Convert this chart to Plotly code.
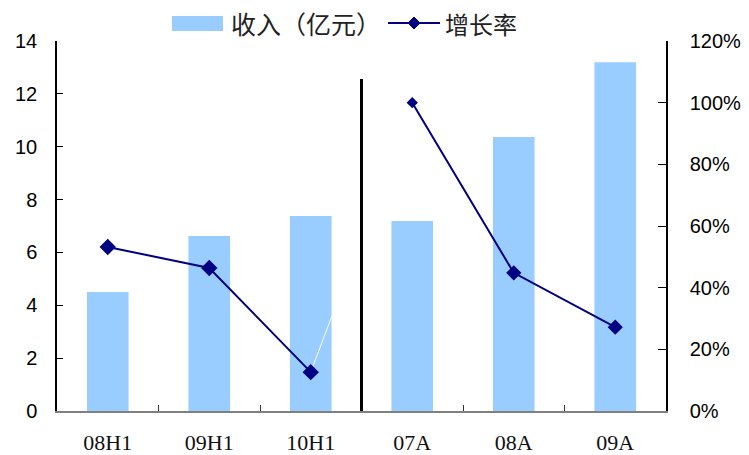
import plotly.graph_objects as go

categories = ["08H1", "09H1", "10H1", "07A", "08A", "09A"]
revenue = [4.5, 6.62, 7.38, 7.19, 10.37, 13.2]
growth = [0.532, 0.464, 0.126, 1.0, 0.448, 0.272]
left_ticks = [0, 2, 4, 6, 8, 10, 12, 14]
right_ticks = [0, 0.2, 0.4, 0.6, 0.8, 1.0, 1.2]
right_labels = ["0%", "20%", "40%", "60%", "80%", "100%", "120%"]
legend_labels = ["收入（亿元）", "增长率"]

NAVY = "#000080"
BAR = "#99CCFF"

fig = go.Figure()
fig.add_trace(go.Bar(x=categories, y=revenue, marker_color=BAR, width=0.41,
                     marker_line_width=0, showlegend=False, hoverinfo="skip"))
# faint white connector between the two segments
fig.add_trace(go.Scatter(x=categories[2:4], y=growth[2:4], yaxis="y2", mode="lines",
                         line=dict(color="white", width=1), showlegend=False))
# growth segments (gap between halves)
gx = categories[:3] + [None] + categories[3:]
gy = growth[:3] + [None] + growth[3:]
gs = [11, 11, 11, 0, 7, 10, 10]
fig.add_trace(go.Scatter(x=gx, y=gy, yaxis="y2", mode="lines+markers",
                         connectgaps=False,
                         line=dict(color=NAVY, width=2),
                         marker=dict(symbol="diamond", size=gs, color=NAVY, opacity=1,
                                     line=dict(width=1.5, color=NAVY)),
                         showlegend=False))

fig.update_layout(
    width=749, height=455,
    margin=dict(l=57, r=83, t=41, b=44, autoexpand=False),
    paper_bgcolor="white", plot_bgcolor="white",
    bargap=0.59,
    xaxis=dict(type="category", categoryorder="array", categoryarray=categories,
               range=[-0.5, 5.5], showline=True, linecolor="#808080", linewidth=2,
               ticks="inside", tickson="boundaries", ticklen=6, tickcolor="#333",
               tickfont=dict(family="Liberation Serif, DejaVu Serif, serif", size=22, color="#111"),
               ticklabelstandoff=11, showgrid=False, zeroline=False, automargin=False),
    yaxis=dict(range=[0, 14], tickvals=left_ticks, showline=True, linecolor="black",
               linewidth=1.5, ticks="inside", ticklen=6, tickcolor="black",
               tickfont=dict(family="Liberation Sans, Arial, sans-serif", size=20, color="black"),
               ticklabelstandoff=14, showgrid=False, zeroline=False, automargin=False),
    yaxis2=dict(range=[0, 1.2], tickvals=right_ticks, ticktext=right_labels,
                overlaying="y", side="right", showline=True, linecolor="black",
                linewidth=1.5, ticks="inside", ticklen=8, tickcolor="black",
                tickfont=dict(family="Liberation Sans, Arial, sans-serif", size=20, color="black"),
                ticklabelstandoff=18, showgrid=False, zeroline=False, automargin=False),
    showlegend=False,
)

# divider line between half-year and annual data
fig.add_shape(type="line", xref="x", yref="paper", x0=2.5, x1=2.5, y0=0, y1=0.897,
              line=dict(color="black", width=3), layer="above")

# manual legend
fig.add_shape(type="rect", xref="paper", yref="paper",
              x0=(172 - 57) / 609, x1=(223 - 57) / 609,
              y0=(411 - 31) / 370, y1=(411 - 16) / 370,
              fillcolor=BAR, line=dict(width=0))
fig.add_annotation(xref="paper", yref="paper", x=(229 - 57) / 609, y=(411 - 23) / 370,
                   text=legend_labels[0], showarrow=False, xanchor="left", yanchor="middle",
                   font=dict(family="Noto Sans CJK SC", size=25, color="#222"))
ly = (411 - 23) / 370
fig.add_shape(type="line", xref="paper", yref="paper",
              x0=(388 - 57) / 609, x1=(440 - 57) / 609, y0=ly, y1=ly,
              line=dict(color=NAVY, width=2))
cx, cy, r = 414, 23, 6
fig.add_shape(type="path", xref="paper", yref="paper",
              path="M {a},{b} L {c},{d} L {e},{f} L {g},{h} Z".format(
                  a=(cx - r - 57) / 609, b=(411 - cy) / 370,
                  c=(cx - 57) / 609, d=(411 - cy + r) / 370,
                  e=(cx + r - 57) / 609, f=(411 - cy) / 370,
                  g=(cx - 57) / 609, h=(411 - cy - r) / 370),
              fillcolor=NAVY, line=dict(color=NAVY, width=1))
fig.add_annotation(xref="paper", yref="paper", x=(443 - 57) / 609, y=ly,
                   text=legend_labels[1], showarrow=False, xanchor="left", yanchor="middle",
                   font=dict(family="Noto Sans CJK SC", size=24, color="#222"))

fig.write_html("out.html")
